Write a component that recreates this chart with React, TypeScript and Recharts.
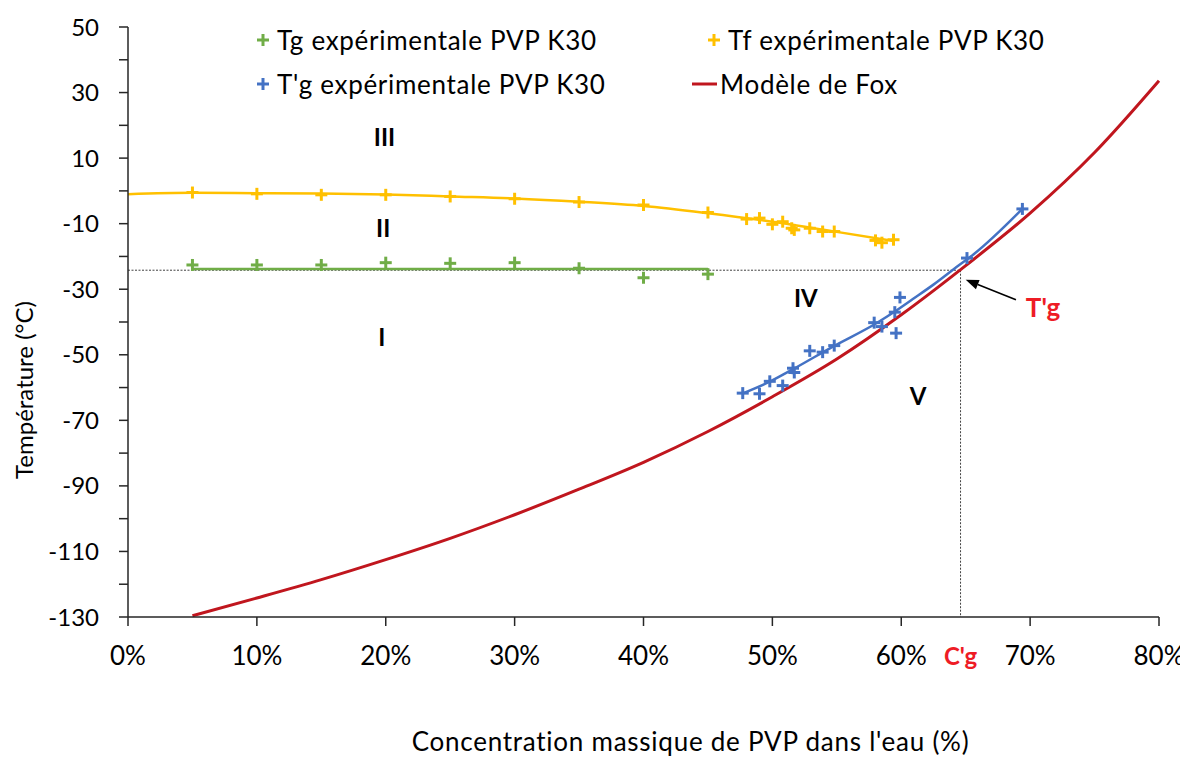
import React from "react";
import {
  ComposedChart,
  XAxis,
  YAxis,
  Line,
  Scatter,
  ReferenceLine,
  ReferenceDot,
} from "recharts";

// ---------- data ----------
const tgX = [5, 10, 15, 20, 25, 30, 35, 40, 45];
const tgY = [-22.6, -22.6, -22.6, -21.9, -22.1, -21.9, -23.6, -26.5, -25.4];
const tgFitX = [5, 45];
const tgFitY = [-23.8, -23.8];

const tfX = [5, 10, 15, 20, 25, 30, 35, 40, 45, 48, 49, 50, 50.8, 51.5, 51.7, 52.9, 53.9, 54.8, 58, 58.5, 59.4];
const tfY = [-0.5, -0.9, -1.2, -1.2, -1.7, -2.4, -3.4, -4.3, -6.6, -8.6, -8.3, -10.2, -9.4, -11.4, -11.9, -11.4, -12.4, -12.4, -15.1, -15.8, -14.9];
const tfFitX = [0, 5, 10, 15, 20, 25, 30, 35, 40, 45, 50, 55, 59.4];
const tfFitY = [-1.0, -0.6, -0.7, -0.8, -1.1, -1.7, -2.3, -3.3, -4.6, -6.8, -9.4, -12.5, -15.3];

const tgpX = [47.7, 49.0, 49.8, 50.8, 51.6, 51.7, 52.9, 53.9, 54.8, 57.9, 58.5, 59.5, 59.9, 59.6, 65.1, 69.4];
const tgpY = [-61.7, -61.9, -58.1, -59.4, -54.1, -55.4, -48.8, -49.2, -47.2, -40.2, -41.4, -37.0, -32.5, -43.4, -20.5, -5.5];
const tgpFitX = [47.7, 49.8, 51.6, 54.7, 58.1, 59.5, 60.9, 62.5, 64.5, 65.6, 69.4];
const tgpFitY = [-61.8, -58.2, -54.4, -47.5, -40.3, -36.8, -33.0, -28.6, -22.6, -19.4, -5.5];

const foxX = [5, 10, 15, 20, 25, 30, 35, 40, 45, 50, 55, 60, 65, 70, 75, 80];
const foxY = [-129.6, -124.2, -118.6, -112.5, -106.0, -98.8, -91.0, -82.8, -73.4, -62.8, -51.3, -37.8, -22.8, -6.8, 11.7, 33.6];

const TG_PRIME = -24.2;
const CG_PRIME = 64.6;

const xTicks = [0, 10, 20, 30, 40, 50, 60, 70, 80];
const yTicks = [-130, -120, -110, -100, -90, -80, -70, -60, -50, -40, -30, -20, -10, 0, 10, 20, 30, 40, 50];
const yLabelled = [-130, -110, -90, -70, -50, -30, -10, 10, 30, 50];

const regionLabels = [
  { x: 19.9, y: 16.5, text: "III" },
  { x: 19.8, y: -11.3, text: "II" },
  { x: 19.7, y: -44.5, text: "I" },
  { x: 52.6, y: -32.6, text: "IV" },
  { x: 61.3, y: -62.5, text: "V" },
];
const arrowFrom = { x: 68.9, y: -33.2 };
const arrowTo = { x: 65.0, y: -27.1 };
const tgLabelPos = { x: 71.0, y: -35.4 };

const legendItems = [
  { name: "Tg expérimentale PVP K30", color: "#70AD47", kind: "plus" },
  { name: "Tf expérimentale PVP K30", color: "#FFC000", kind: "plus" },
  { name: "T'g expérimentale PVP K30", color: "#4472C4", kind: "plus" },
  { name: "Modèle de Fox", color: "#C0161E", kind: "line" },
];

const zip = (xs: number[], ys: number[]) => xs.map((x, i) => ({ x, y: ys[i] }));

const FONT = "Lato, 'Open Sans', sans-serif";
const RED_TXT = "#EE1C25";

const makePlus = (color: string) => (props: any) => {
  const { cx, cy } = props;
  if (cx == null || cy == null) return <g />;
  const s = 6;
  return (
    <g>
      <line x1={cx - s} x2={cx + s} y1={cy} y2={cy} stroke={color} strokeWidth={3} />
      <line x1={cx} x2={cx} y1={cy - s} y2={cy + s} stroke={color} strokeWidth={3} />
    </g>
  );
};

const ArrowShape = (p: any) => {
  const { x1, y1, x2, y2 } = p;
  const a = Math.atan2(y2 - y1, x2 - x1);
  const L = 13;
  const W = 5;
  const bx = x2 - L * Math.cos(a);
  const by = y2 - L * Math.sin(a);
  const nx = -Math.sin(a);
  const ny = Math.cos(a);
  return (
    <g>
      <line x1={x1} y1={y1} x2={bx} y2={by} stroke="#000" strokeWidth={1.6} />
      <polygon
        points={`${x2},${y2} ${bx + W * nx},${by + W * ny} ${bx - W * nx},${by - W * ny}`}
        fill="#000"
      />
    </g>
  );
};

const textLabel = (text: string, color: string, size: number, dx = 0, dy = 0) => (props: any) => {
  const vb = props.viewBox || {};
  const x = (vb.x ?? 0) + (vb.width ?? 0) / 2 + dx;
  const y = (vb.y ?? 0) + (vb.height ?? 0) / 2 + dy;
  return (
    <text
      x={x}
      y={y}
      textAnchor="middle"
      dominantBaseline="central"
      fontFamily={FONT}
      fontWeight="bold"
      fontSize={size}
      fill={color}
    >
      {text}
    </text>
  );
};

const YLabel = (props: any) => {
  const vb = props.viewBox || {};
  const cx = vb.x + 15;
  const cy = vb.y + vb.height / 2 + 68;
  return (
    <text
      x={cx}
      y={cy}
      transform={`rotate(-90, ${cx}, ${cy})`}
      textAnchor="middle"
      dominantBaseline="central"
      fontFamily={FONT}
      fontSize={24}
      fill="#000"
    >
      Température (°C)
    </text>
  );
};

const XLabel = (props: any) => {
  const vb = props.viewBox || {};
  const cx = vb.x + vb.width / 2 + 47;
  const cy = vb.y + 124;
  return (
    <text
      x={cx}
      y={cy}
      textAnchor="middle"
      dominantBaseline="central"
      fontFamily={FONT}
      fontSize={26}
      letterSpacing={0.75}
      fill="#000"
    >
      Concentration massique de PVP dans l'eau (%)
    </text>
  );
};

const legendPos = [
  { left: 241, top: 32 },
  { left: 692, top: 32 },
  { left: 241, top: 76 },
  { left: 684, top: 76 },
];

export default function App() {
  return (
    <div style={{ position: "relative", width: 1180, height: 752, fontFamily: FONT }}>
      <ComposedChart
        width={1180}
        height={752}
        margin={{ top: 19, right: 29, bottom: 0, left: 0 }}
      >
        <XAxis
          type="number"
          dataKey="x"
          domain={[0, 80]}
          ticks={xTicks}
          interval={0}
          tickFormatter={(v: number) => `${v}%`}
          tickSize={9}
          tickMargin={21}
          height={143}
          axisLine={{ stroke: "#262626", strokeWidth: 1.5 }}
          tickLine={{ stroke: "#262626", strokeWidth: 1.5 }}
          tick={{ fill: "#000", fontSize: 26, fontFamily: FONT }}
          label={{ content: XLabel }}
        />
        <YAxis
          type="number"
          dataKey="y"
          domain={[-130, 50]}
          ticks={yTicks}
          interval={0}
          tickFormatter={(v: number) => (yLabelled.includes(v) ? String(v) : "")}
          tickSize={9}
          tickMargin={20}
          width={120}
          axisLine={{ stroke: "#262626", strokeWidth: 1.5 }}
          tickLine={{ stroke: "#262626", strokeWidth: 1.5 }}
          tick={{ fill: "#000", fontSize: 24, fontFamily: FONT }}
          label={{ content: YLabel }}
        />

        <ReferenceLine
          segment={[
            { x: 0, y: TG_PRIME },
            { x: CG_PRIME, y: TG_PRIME },
          ]}
          stroke="#404040"
          strokeWidth={1}
          strokeDasharray="2 1.5"
        />
        <ReferenceLine
          segment={[
            { x: CG_PRIME, y: TG_PRIME },
            { x: CG_PRIME, y: -130 },
          ]}
          stroke="#404040"
          strokeWidth={1}
          strokeDasharray="2 1.5"
        />

        <Line
          data={zip(foxX, foxY)}
          dataKey="y"
          type="monotone"
          stroke="#C0161E"
          strokeWidth={3}
          dot={false}
          activeDot={false}
          isAnimationActive={false}
        />
        <Line
          data={zip(tfFitX, tfFitY)}
          dataKey="y"
          type="monotone"
          stroke="#FFC000"
          strokeWidth={2.5}
          dot={false}
          activeDot={false}
          isAnimationActive={false}
        />
        <Line
          data={zip(tgFitX, tgFitY)}
          dataKey="y"
          type="linear"
          stroke="#70AD47"
          strokeWidth={2.5}
          dot={false}
          activeDot={false}
          isAnimationActive={false}
        />
        <Line
          data={zip(tgpFitX, tgpFitY)}
          dataKey="y"
          type="monotone"
          stroke="#4472C4"
          strokeWidth={2.5}
          dot={false}
          activeDot={false}
          isAnimationActive={false}
        />

        <Scatter data={zip(tgX, tgY)} dataKey="y" shape={makePlus("#70AD47")} isAnimationActive={false} />
        <Scatter data={zip(tfX, tfY)} dataKey="y" shape={makePlus("#FFC000")} isAnimationActive={false} />
        <Scatter data={zip(tgpX, tgpY)} dataKey="y" shape={makePlus("#4472C4")} isAnimationActive={false} />

        <ReferenceLine segment={[arrowFrom, arrowTo]} shape={ArrowShape} />

        {regionLabels.map((r) => (
          <ReferenceDot
            key={r.text}
            x={r.x}
            y={r.y}
            r={0}
            fill="none"
            stroke="none"
            label={{ content: textLabel(r.text, "#000", 24) }}
          />
        ))}
        <ReferenceDot
          x={tgLabelPos.x}
          y={tgLabelPos.y}
          r={0}
          fill="none"
          stroke="none"
          label={{ content: textLabel("T'g", RED_TXT, 26) }}
        />
        <ReferenceDot
          x={CG_PRIME}
          y={-130}
          r={0}
          fill="none"
          stroke="none"
          label={{ content: textLabel("C'g", RED_TXT, 24, 0, 38) }}
        />
      </ComposedChart>

      {legendItems.map((it, i) => (
        <div
          key={it.name}
          style={{
            position: "absolute",
            left: legendPos[i].left,
            top: legendPos[i].top - 17,
            height: 34,
            display: "flex",
            alignItems: "center",
            fontSize: 26,
            letterSpacing: 0.7,
            color: "#000",
            whiteSpace: "nowrap",
          }}
        >
          <svg width={26} height={20} style={{ marginRight: 2 }}>
            {it.kind === "plus" ? (
              <g>
                <line x1={8} x2={20} y1={10} y2={10} stroke={it.color} strokeWidth={3} />
                <line x1={14} x2={14} y1={4} y2={16} stroke={it.color} strokeWidth={3} />
              </g>
            ) : (
              <line x1={0} x2={25} y1={10} y2={10} stroke={it.color} strokeWidth={3} />
            )}
          </svg>
          <span>{it.name}</span>
        </div>
      ))}
    </div>
  );
}
